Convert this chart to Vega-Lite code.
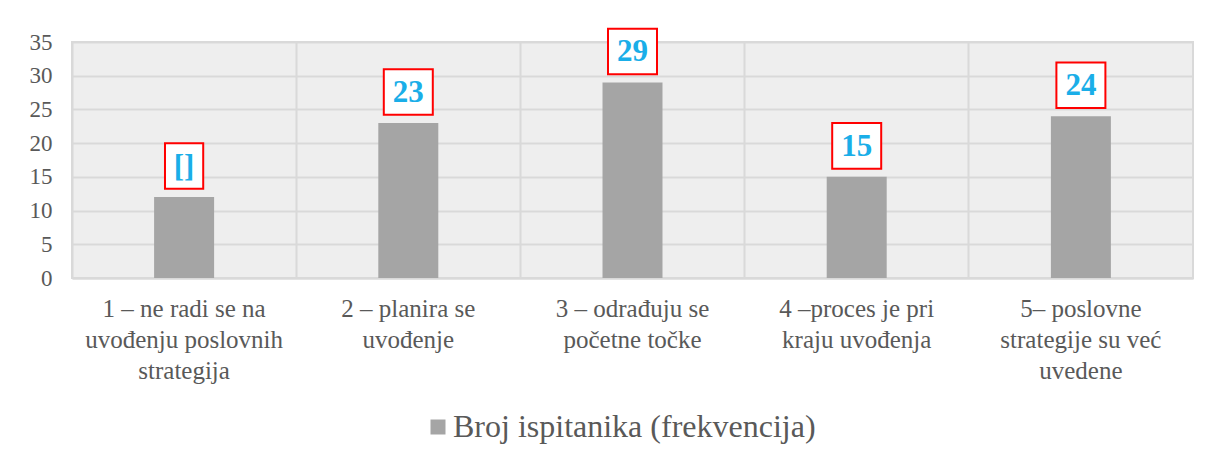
{
  "$schema": "https://vega.github.io/schema/vega-lite/v6.json",
  "width": 1121,
  "height": 236,
  "autosize": "none",
  "padding": {"left": 72, "top": 42, "right": 18, "bottom": 181},
  "background": "white",
  "config": {
    "font": "Liberation Serif",
    "axis": {"labelFont": "Liberation Serif"},
    "legend": {"labelFont": "Liberation Serif"},
    "view": {"fill": "#eeeeee", "stroke": "#d9d9d9", "strokeWidth": 2}
  },
  "data": {
    "values": [
      {"cat": "1 – ne radi se na|uvođenju poslovnih|strategija", "value": 12, "label": "[]", "series": "Broj ispitanika (frekvencija)"},
      {"cat": "2 – planira se|uvođenje", "value": 23, "label": "23", "series": "Broj ispitanika (frekvencija)"},
      {"cat": "3 – odrađuju se|početne točke", "value": 29, "label": "29", "series": "Broj ispitanika (frekvencija)"},
      {"cat": "4 –proces je pri|kraju uvođenja", "value": 15, "label": "15", "series": "Broj ispitanika (frekvencija)"},
      {"cat": "5– poslovne|strategije su već|uvedene", "value": 24, "label": "24", "series": "Broj ispitanika (frekvencija)"}
    ]
  },
  "encoding": {
    "x": {
      "field": "cat",
      "type": "nominal",
      "sort": null,
      "scale": {"paddingInner": 0, "paddingOuter": 0},
      "axis": {
        "title": null,
        "labelAngle": 0,
        "labelExpr": "split(datum.label, '|')",
        "labelFont": "Liberation Serif",
        "labelFontSize": 25,
        "labelColor": "#595959",
        "labelLineHeight": 31,
        "labelPadding": 18,
        "labelBaseline": "top",
        "labelLimit": 220,
        "ticks": false,
        "domain": true,
        "domainColor": "#d9d9d9",
        "domainWidth": 2,
        "grid": true,
        "bandPosition": 0,
        "gridColor": "#d9d9d9",
        "gridWidth": 2
      }
    },
    "y": {
      "field": "value",
      "type": "quantitative",
      "scale": {"domain": [0, 35]},
      "axis": {
        "title": null,
        "values": [0, 5, 10, 15, 20, 25, 30, 35],
        "labelFont": "Liberation Serif",
        "labelFontSize": 23,
        "labelColor": "#595959",
        "labelPadding": 20,
        "ticks": false,
        "domain": false,
        "gridColor": "#d9d9d9",
        "gridWidth": 2
      }
    }
  },
  "layer": [
    {
      "mark": {"type": "bar", "size": 60},
      "encoding": {
        "color": {
          "field": "series",
          "type": "nominal",
          "scale": {"range": ["#a5a5a5"]},
          "legend": {
            "title": null,
            "orient": "none",
            "legendX": 350,
            "legendY": 369,
            "symbolType": "square",
            "symbolSize": 225,
            "symbolStrokeWidth": 0,
            "labelFont": "Liberation Serif",
            "labelFontSize": 32,
            "labelColor": "#595959",
            "labelOffset": -1,
            "labelLimit": 600
          }
        }
      }
    },
    {
      "mark": {"type": "point", "filled": true, "fill": "white", "stroke": "#ff0000", "strokeWidth": 2, "opacity": 1, "size": 2401, "yOffset": -31},
      "encoding": {
        "shape": {
          "condition": {"test": "datum.label == '[]'", "value": "M-0.78,-0.93H0.78V0.93H-0.78Z"},
          "value": "M-1,-0.93H1V0.93H-1Z"
        }
      }
    },
    {
      "mark": {"type": "text", "font": "Liberation Serif", "fontWeight": "bold", "fontSize": 31, "color": "#1aaee8", "baseline": "middle", "yOffset": -30},
      "encoding": {"text": {"field": "label"}}
    }
  ]
}
